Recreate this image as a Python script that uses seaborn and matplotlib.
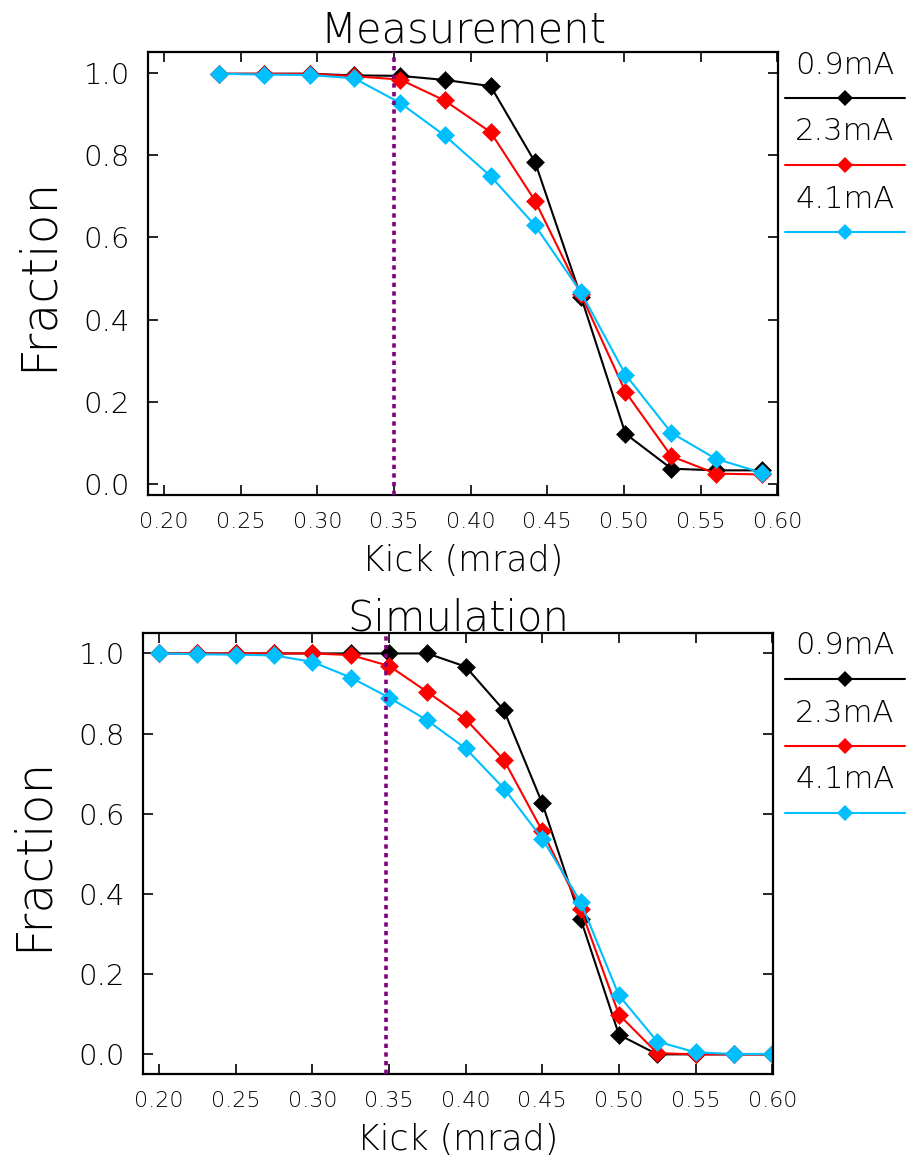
import numpy as np
import pandas as pd
import matplotlib
matplotlib.use("Agg")
import matplotlib.pyplot as plt
import seaborn as sns
from matplotlib.lines import Line2D

# ---------------- data ----------------
currents = ["0.9mA", "2.3mA", "4.1mA"]
colors = ["#000000", "#ff0000", "#00bfff"]

meas_kick = [0.236, 0.265, 0.295, 0.324, 0.354, 0.383, 0.413, 0.442, 0.472, 0.501, 0.531, 0.560, 0.590]
meas_09 = [0.998, 0.998, 0.998, 0.994, 0.993, 0.983, 0.968, 0.783, 0.455, 0.122, 0.037, 0.033, 0.033]
meas_23 = [0.998, 0.998, 0.998, 0.992, 0.984, 0.933, 0.856, 0.689, 0.461, 0.224, 0.067, 0.025, 0.023]
meas_41 = [0.998, 0.996, 0.995, 0.987, 0.927, 0.848, 0.749, 0.629, 0.466, 0.266, 0.124, 0.061, 0.027]

sim_kick = [0.200, 0.225, 0.250, 0.275, 0.300, 0.325, 0.350, 0.375, 0.400, 0.425,
            0.450, 0.475, 0.500, 0.525, 0.550, 0.575, 0.600]
sim_09 = [1.000, 1.000, 1.000, 1.000, 1.000, 1.000, 1.000, 1.000, 0.967, 0.858,
          0.626, 0.338, 0.049, 0.000, 0.000, 0.000, 0.000]
sim_23 = [1.000, 1.000, 1.000, 1.000, 1.000, 0.996, 0.969, 0.904, 0.836, 0.734,
          0.557, 0.363, 0.099, 0.003, 0.000, 0.000, 0.000]
sim_41 = [1.000, 0.998, 0.997, 0.995, 0.979, 0.940, 0.890, 0.833, 0.763, 0.663,
          0.538, 0.380, 0.147, 0.032, 0.005, 0.001, 0.001]

x_ticks = [0.20, 0.25, 0.30, 0.35, 0.40, 0.45, 0.50, 0.55, 0.60]
y_ticks = [0.0, 0.2, 0.4, 0.6, 0.8, 1.0]
meas_vline = 0.350
sim_vline = 0.348


def make_df(kick, series):
    frames = []
    for name, vals in zip(currents, series):
        frames.append(pd.DataFrame({"kick": kick, "fraction": vals, "current": name}))
    return pd.concat(frames, ignore_index=True)


df_meas = make_df(meas_kick, [meas_09, meas_23, meas_41])
df_sim = make_df(sim_kick, [sim_09, sim_23, sim_41])

# ---------------- style ----------------
sns.set_style("ticks")
plt.rcParams["font.family"] = ["DejaVu Sans"]
plt.rcParams["text.color"] = "black"
plt.rcParams["axes.labelcolor"] = "black"
plt.rcParams["xtick.color"] = "black"
plt.rcParams["ytick.color"] = "black"

W, H = 907, 1166
fig = plt.figure(figsize=(W / 100, H / 100), dpi=100)

palette = dict(zip(currents, colors))


def setup_axes(rect, df, vline, ylim, title, title_pad):
    ax = fig.add_axes(rect)
    sns.lineplot(data=df, x="kick", y="fraction", hue="current", palette=palette,
                 hue_order=currents, marker="D", markersize=9, markeredgewidth=0.4,
                 linewidth=1.5, legend=False, sort=False, ax=ax)
    for ln, c in zip(ax.lines, colors):
        ln.set_markeredgecolor(c)
    ax.axvline(vline, color="#800080", linestyle=(0, (1.2, 1.2)), linewidth=2.6, zorder=5)
    ax.set_xlim(0.1895, 0.6005)
    ax.set_ylim(*ylim)
    ax.set_xticks(x_ticks)
    ax.set_xticklabels([f"{t:.2f}" for t in x_ticks], fontsize=16, fontweight="light")
    ax.set_yticks(y_ticks)
    ax.set_yticklabels([f"{t:.1f}" for t in y_ticks], fontsize=21, fontweight="light")
    ax.tick_params(direction="in", length=7, width=1.2, top=True, right=True,
                   color="black")
    ax.tick_params(axis="x", pad=12)
    ax.tick_params(axis="y", pad=13)
    for s in ax.spines.values():
        s.set_linewidth(1.6)
        s.set_color("black")
    ax.set_xlabel("Kick (mrad)", fontsize=25, fontweight="light", labelpad=9)
    ax.set_ylabel("Fraction", fontsize=35, fontweight="light", labelpad=16)
    ax.set_title(title, fontsize=30, fontweight="light", pad=title_pad)
    return ax


ax1 = setup_axes([148 / W, 1 - 495 / H, 630 / W, 443 / H], df_meas, meas_vline,
                 (-0.027, 1.051), "Measurement", 7)
ax2 = setup_axes([143 / W, 1 - 1074 / H, 630 / W, 441 / H], df_sim, sim_vline,
                 (-0.049, 1.051), "Simulation", 2)


def draw_legend(top_px):
    for i, (name, c) in enumerate(zip(currents, colors)):
        line_y = top_px + 46 + 67 * i
        text_y = line_y - 33
        fig.text(845 / W, 1 - text_y / H, name, fontsize=22, fontweight="light",
                 ha="center", va="center")
        fig.add_artist(Line2D([785 / W, 905 / W], [1 - line_y / H, 1 - line_y / H],
                              color=c, linewidth=1.5, transform=fig.transFigure))
        fig.add_artist(Line2D([845 / W], [1 - line_y / H], color=c, marker="D",
                              markersize=8.5, markeredgewidth=0, linestyle="none",
                              transform=fig.transFigure))


draw_legend(52)
draw_legend(633)

fig.savefig("out.png", dpi=100)
